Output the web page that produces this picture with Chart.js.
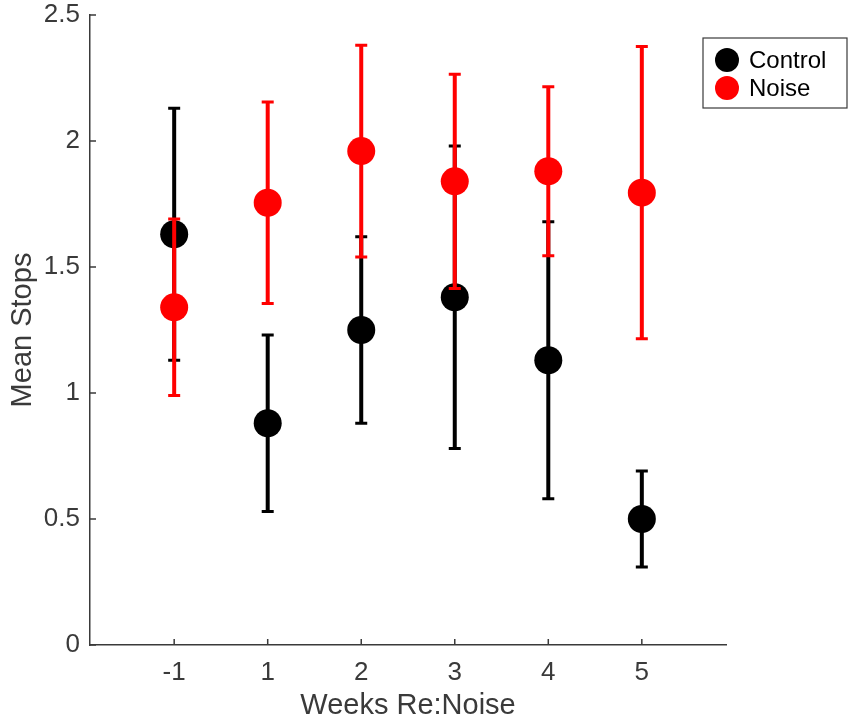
<!DOCTYPE html>
<html>
<head>
<meta charset="utf-8">
<title>Mean Stops</title>
<script src="https://cdn.jsdelivr.net/npm/chart.js@4/dist/chart.umd.min.js"></script>
<style>
  html, body { margin: 0; padding: 0; background: #fff; }
  canvas { display: block; }
</style>
</head>
<body>
<canvas id="chart" width="855" height="725"></canvas>
<script>
const weeks = ["-1", "1", "2", "3", "4", "5"];
const weekPos = [0, 1, 2, 3, 4, 5];

const controlMean = [1.63, 0.88, 1.25, 1.38, 1.13, 0.50];
const controlErr  = [0.50, 0.35, 0.37, 0.60, 0.55, 0.19];

const noiseMean = [1.34, 1.755, 1.96, 1.84, 1.88, 1.795];
const noiseErr  = [0.35, 0.40, 0.42, 0.425, 0.335, 0.58];

const yTicks = [0, 0.5, 1, 1.5, 2, 2.5];
const yTickLabels = ["0", "0.5", "1", "1.5", "2", "2.5"];

const AXIS = "#3a3a3a";
const FONT = "'Liberation Sans', Arial, sans-serif";

function points(means) {
  return means.map((m, i) => ({ x: weekPos[i], y: m }));
}

// error bars drawn just before each dataset's markers
const errorBars = {
  id: "errorBars",
  beforeDatasetDraw(chart, args) {
    const ds = chart.data.datasets[args.index];
    if (!ds.err) return;
    const y = chart.scales.y;
    const meta = chart.getDatasetMeta(args.index);
    const ctx = chart.ctx;
    ctx.save();
    ctx.strokeStyle = ds.backgroundColor;
    meta.data.forEach((pt, i) => {
      const m = ds.data[i].y;
      const top = y.getPixelForValue(m + ds.err[i]);
      const bot = y.getPixelForValue(m - ds.err[i]);
      ctx.lineWidth = 4;
      ctx.beginPath();
      ctx.moveTo(pt.x, top);
      ctx.lineTo(pt.x, bot);
      ctx.stroke();
      ctx.lineWidth = 3;
      ctx.beginPath();
      ctx.moveTo(pt.x - 6, top);
      ctx.lineTo(pt.x + 6, top);
      ctx.moveTo(pt.x - 6, bot);
      ctx.lineTo(pt.x + 6, bot);
      ctx.stroke();
    });
    ctx.restore();
  }
};

// matlab style inward ticks
const inwardTicks = {
  id: "inwardTicks",
  afterDraw(chart) {
    const { ctx, chartArea, scales } = chart;
    ctx.save();
    ctx.strokeStyle = AXIS;
    ctx.lineWidth = 1.5;
    ctx.beginPath();
    scales.x.ticks.forEach(t => {
      const px = scales.x.getPixelForValue(t.value);
      ctx.moveTo(px, chartArea.bottom);
      ctx.lineTo(px, chartArea.bottom - 6);
    });
    scales.y.ticks.forEach(t => {
      const py = scales.y.getPixelForValue(t.value);
      ctx.moveTo(chartArea.left, py);
      ctx.lineTo(chartArea.left + 6, py);
    });
    ctx.stroke();
    ctx.restore();
  }
};

const legendBox = {
  id: "legendBox",
  afterDraw(chart) {
    const ctx = chart.ctx;
    const items = chart.data.datasets;
    const x0 = 703, y0 = 38, w = 144, h = 70;
    ctx.save();
    ctx.fillStyle = "#fff";
    ctx.fillRect(x0, y0, w, h);
    ctx.strokeStyle = AXIS;
    ctx.lineWidth = 1.2;
    ctx.strokeRect(x0, y0, w, h);
    ctx.font = "24px " + FONT;
    ctx.textBaseline = "middle";
    items.forEach((ds, i) => {
      const cy = y0 + 22 + i * 28;
      ctx.fillStyle = ds.backgroundColor;
      ctx.beginPath();
      ctx.arc(x0 + 24, cy, 12, 0, Math.PI * 2);
      ctx.fill();
      ctx.fillStyle = "#000";
      ctx.fillText(ds.label, x0 + 46, cy + 1);
    });
    ctx.restore();
  }
};

new Chart(document.getElementById("chart"), {
  type: "scatter",
  data: {
    datasets: [
      {
        label: "Control",
        data: points(controlMean),
        err: controlErr,
        backgroundColor: "#000000",
        borderColor: "#000000",
        pointRadius: 14,
        borderWidth: 0,
        order: 2
      },
      {
        label: "Noise",
        data: points(noiseMean),
        err: noiseErr,
        backgroundColor: "#ff0000",
        borderColor: "#ff0000",
        pointRadius: 14,
        borderWidth: 0,
        order: 1
      }
    ]
  },
  options: {
    responsive: false,
    animation: false,
    events: [],
    layout: { padding: { top: 15, right: 129, left: 0, bottom: 0 } },
    plugins: {
      legend: { display: false },
      tooltip: { enabled: false }
    },
    scales: {
      x: {
        type: "linear",
        min: -0.9,
        max: 5.9,
        afterBuildTicks: s => { s.ticks = weekPos.map(v => ({ value: v })); },
        afterFit: s => { s.height = 80; s.paddingLeft = 0; s.paddingRight = 0; },
        grid: { display: false, drawTicks: false },
        border: { display: true, color: AXIS, width: 1.5 },
        ticks: {
          color: AXIS,
          font: { family: FONT, size: 26 },
          padding: 12,
          callback: v => weeks[weekPos.indexOf(v)]
        },
        title: {
          display: true,
          text: "Weeks Re:Noise",
          color: AXIS,
          font: { family: FONT, size: 29 },
          padding: { top: 0, bottom: 2 }
        }
      },
      y: {
        min: 0,
        max: 2.5,
        afterBuildTicks: s => { s.ticks = yTicks.map(v => ({ value: v })); },
        afterFit: s => { s.width = 90; s.paddingTop = 0; s.paddingBottom = 0; },
        grid: { display: false, drawTicks: false },
        border: { display: true, color: AXIS, width: 1.5 },
        ticks: {
          color: AXIS,
          font: { family: FONT, size: 26 },
          padding: 10,
          callback: v => yTickLabels[yTicks.indexOf(v)]
        },
        title: {
          display: true,
          text: "Mean Stops",
          color: AXIS,
          font: { family: FONT, size: 29 },
          padding: { top: 6, bottom: 0 }
        }
      }
    }
  },
  plugins: [errorBars, inwardTicks, legendBox]
});
</script>
</body>
</html>
